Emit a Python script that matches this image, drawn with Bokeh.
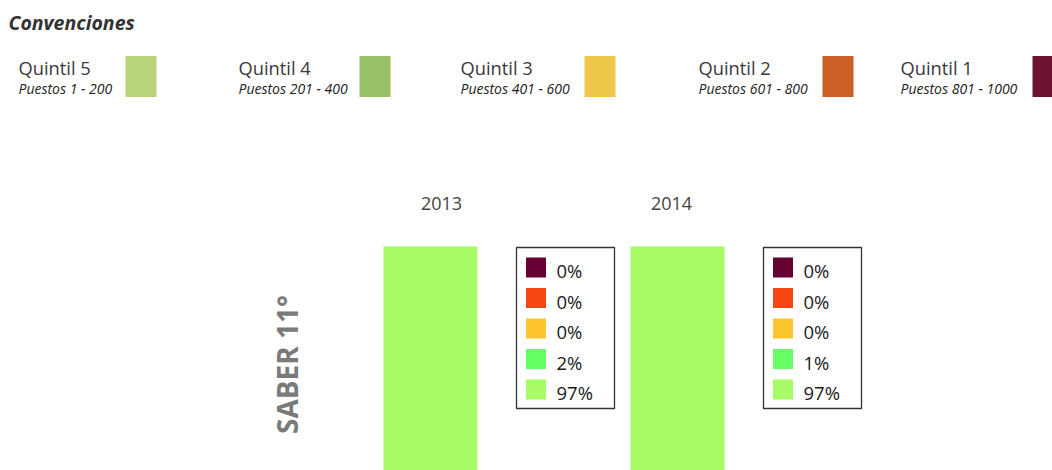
import math
from bokeh.plotting import figure
from bokeh.models import Range1d
from bokeh.core.properties import value
from bokeh.embed import file_html
from bokeh.resources import INLINE

# ---------------- data ----------------
title = "Convenciones"
quintil_names = ["Quintil 5", "Quintil 4", "Quintil 3", "Quintil 2", "Quintil 1"]
puestos = ["Puestos 1 - 200", "Puestos 201 - 400", "Puestos 401 - 600",
           "Puestos 601 - 800", "Puestos 801 - 1000"]
conv_colors = ["#b7d47b", "#97c267", "#eec64a", "#cb6027", "#6d1432"]

years = ["2013", "2014"]
row_label = "SABER 11°"
# shares per quintile, legend order (Quintil 1 ... Quintil 5)
share_order = ["Quintil 1", "Quintil 2", "Quintil 3", "Quintil 4", "Quintil 5"]
share_colors = ["#660033", "#f84612", "#fdc52e", "#66ff66", "#a6fb67"]
pct_2013 = [0, 0, 0, 2, 97]
pct_2014 = [0, 0, 0, 1, 97]
series = [pct_2013, pct_2014]

# ---------------- figure ----------------
W, H = 1052, 470
p = figure(width=W, height=H, x_range=Range1d(0, W), y_range=Range1d(H, 0),
           output_backend="svg", toolbar_location=None, min_border=0,
           x_axis_location=None, y_axis_location=None)
p.grid.visible = False
p.outline_line_color = None
p.background_fill_color = "white"
p.border_fill_color = "white"

# percent scale for the bars: 100% sits at 246 px from the top, 2.5 px per point
px_per = 2.5
top_px = 246
p.extra_y_ranges = {"pct": Range1d(100 - (H - top_px) / px_per, 100 + top_px / px_per)}

FONT = "Open Sans"

# title
p.text(x=[8], y=[22], text=[title], text_font=value(FONT), text_font_size="19.5px",
       text_font_style="bold italic", text_color="#333333", text_baseline="middle")

# conventions row
item_x = [18, 238, 460, 698, 900]
sw_x = [125, 359, 584, 822, 1032]
p.text(x=item_x, y=[67] * 5, text=quintil_names, text_font=value(FONT),
       text_font_size="18.3px", text_color="#3a3a3a", text_baseline="middle")
p.text(x=item_x, y=[88] * 5, text=puestos, text_font=value(FONT),
       text_font_size="14px", text_font_style="italic", text_color="#222222",
       text_baseline="middle")
p.rect(x=[sx + 15.5 for sx in sw_x], y=[76] * 5, width=31, height=41,
       fill_color=conv_colors, line_color=None)

# row label
p.text(x=[286], y=[364], text=[row_label], angle=math.pi / 2, text_font=value(FONT),
       text_font_size="28px", text_font_style="bold", text_color="#7a7a7a",
       text_align="center", text_baseline="middle")

bar_cx = [430, 677]
bar_w = 94
label_cx = [441, 671]
for i, vals in enumerate(series):
    # stacked from the top: Quintil 5 first
    tops, bottoms, cols = [], [], []
    cur = 100.0
    for v, c in zip(reversed(vals), reversed(share_colors)):
        tops.append(cur)
        bottoms.append(cur - v)
        cols.append(c)
        cur -= v
    p.vbar(x=[bar_cx[i]] * len(tops), top=tops, bottom=bottoms, width=bar_w,
           fill_color=cols, line_color=None, y_range_name="pct")

    # year label
    p.text(x=[label_cx[i]], y=[203], text=[years[i]], text_font=value(FONT),
           text_font_size="18px", text_color="#444444", text_align="center",
           text_baseline="middle")

    # value legend box
    bx0 = bar_cx[i] + bar_w / 2 + 39
    p.quad(left=[bx0], right=[bx0 + 98], top=[247], bottom=[408],
           fill_color="white", line_color="#333333", line_width=1.3)
    ys = [267 + 30.5 * k for k in range(5)]
    p.rect(x=[bx0 + 19.5] * 5, y=ys, width=20, height=20,
           fill_color=share_colors, line_color=None)
    p.text(x=[bx0 + 40] * 5, y=[yy + 3 for yy in ys], text=[f"{v}%" for v in vals],
           text_font=value(FONT), text_font_size="18.5px", text_color="#1a1a1a",
           text_baseline="middle")

open("out.html", "w").write(file_html(p, INLINE))
